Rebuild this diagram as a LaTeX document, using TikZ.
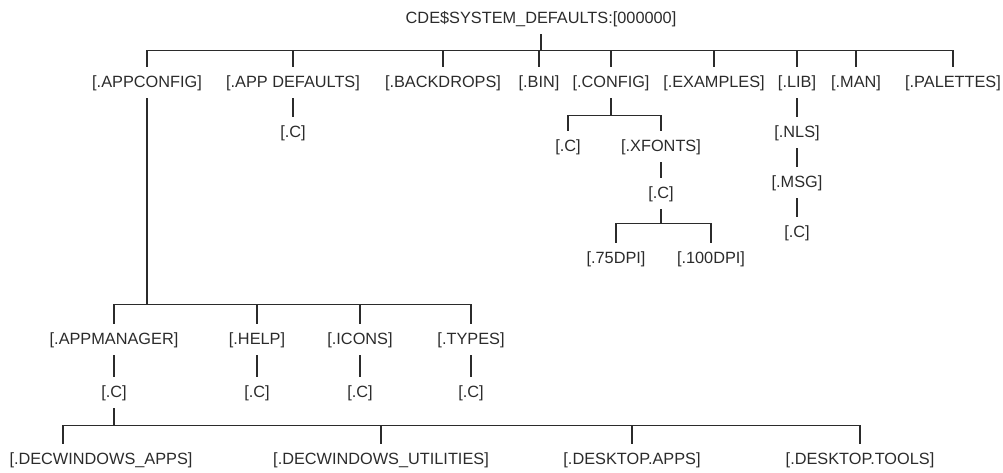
\documentclass[tikz,border=0pt]{standalone}
\usepackage{fontspec}
\setmainfont{Liberation Sans}
\definecolor{ink}{HTML}{2B2B2B}
\begin{document}
\begin{tikzpicture}[x=1pt,y=-1pt,
		dir/.style={anchor=base,text=ink,font=\fontsize{16.3}{18}\selectfont,
			inner xsep=0pt,inner ysep=8pt,text height=12pt,text depth=3pt},
		branch/.style={draw=ink,line width=1.2pt}]
		\useasboundingbox (0,0) rectangle (1003,472);
		
		% top
		\node[dir] (root) at (541,23) {CDE\$SYSTEM\_DEFAULTS:[000000]};
		
		% first level
		\node[dir] (appconfig) at (147,87) {[.APPCONFIG]};
		\node[dir] (appdefaults) at (293,87) {[.APP DEFAULTS]};
		\node[dir] (backdrops) at (443,87) {[.BACKDROPS]};
		\node[dir] (bin) at (539,87) {[.BIN]};
		\node[dir] (config) at (611,87) {[.CONFIG]};
		\node[dir] (examples) at (714,87) {[.EXAMPLES]};
		\node[dir] (lib) at (797,87) {[.LIB]};
		\node[dir] (man) at (856,87) {[.MAN]};
		\node[dir] (palettes) at (953,87) {[.PALETTES]};
		
		\node[dir] (adc) at (293,137) {[.C]};
		
		\node[dir] (cfgc) at (568,151) {[.C]};
		\node[dir] (xfonts) at (661,151) {[.XFONTS]};
		\node[dir] (xfc) at (661,198) {[.C]};
		\node[dir] (dpi75) at (616,263) {[.75DPI]};
		\node[dir] (dpi100) at (711,263) {[.100DPI]};
		
		\node[dir] (nls) at (797,137) {[.NLS]};
		\node[dir] (msg) at (797,187) {[.MSG]};
		\node[dir] (libc) at (797,237) {[.C]};
		
		% appconfig subtree
		\node[dir] (appmanager) at (114,344) {[.APPMANAGER]};
		\node[dir] (help) at (257,344) {[.HELP]};
		\node[dir] (icons) at (360,344) {[.ICONS]};
		\node[dir] (types) at (471,344) {[.TYPES]};
		\node[dir] (amc) at (114,397) {[.C]};
		\node[dir] (helpc) at (257,397) {[.C]};
		\node[dir] (iconsc) at (360,397) {[.C]};
		\node[dir] (typesc) at (471,397) {[.C]};
		
		\node[dir] (dwapps) at (101,464) {[.DECWINDOWS\_APPS]};
		\node[dir] (dwutil) at (381,464) {[.DECWINDOWS\_UTILITIES]};
		\node[dir] (dtapps) at (632,464) {[.DESKTOP.APPS]};
		\node[dir] (dttools) at (860,464) {[.DESKTOP.TOOLS]};
		
		% branches
		\foreach \c in {appconfig,appdefaults,backdrops,bin,config,examples,lib,man,palettes}
			\draw[branch] (root.south) -- ++(0,16) -| (\c.north);
		\draw[branch] (appdefaults.south) -- (adc.north);
		\foreach \c in {cfgc,xfonts}
			\draw[branch] (config.south) -- ++(0,17) -| (\c.north);
		\draw[branch] (xfonts.south) -- (xfc.north);
		\foreach \c in {dpi75,dpi100}
			\draw[branch] (xfc.south) -- ++(0,14) -| (\c.north);
		\draw[branch] (lib.south) -- (nls.north);
		\draw[branch] (nls.south) -- (msg.north);
		\draw[branch] (msg.south) -- (libc.north);
		
		\foreach \c in {appmanager,help,icons,types}
			\draw[branch] (appconfig.south) -- ++(0,206) -| (\c.north);
		\draw[branch] (appmanager.south) -- (amc.north);
		\draw[branch] (help.south) -- (helpc.north);
		\draw[branch] (icons.south) -- (iconsc.north);
		\draw[branch] (types.south) -- (typesc.north);
		
		\draw[branch] (amc.south) -- ++(0,17) -| ([xshift=-38pt]dwapps.north);
		\foreach \c in {dwutil,dtapps,dttools}
			\draw[branch] (amc.south) -- ++(0,17) -| (\c.north);
		
		\end{tikzpicture}
\end{document}
